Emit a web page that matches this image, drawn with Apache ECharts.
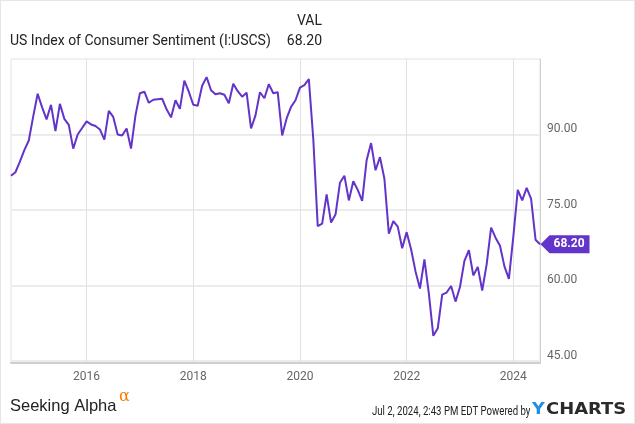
<!DOCTYPE html>
<html><head><meta charset="utf-8">
<script src="https://cdn.jsdelivr.net/npm/echarts@6/dist/echarts.min.js"></script>
<style>
html,body{margin:0;padding:0;background:#fff;}
#c{width:633px;height:422px;border:1px solid #e6e6e6;}
</style></head><body>
<div id="c"></div>
<script>
// Monthly values, July 2014 .. June 2024 (points placed at month end)
const startYear = 2014, startMonth = 7;
const v2014 = [81.8, 82.5, 84.6, 86.9, 88.8, 93.6];
const v2015 = [98.1, 95.4, 93.0, 95.9, 90.7, 96.1, 93.1, 91.9, 87.2, 90.0, 91.3, 92.6];
const v2016 = [92.0, 91.7, 91.0, 89.0, 94.7, 93.5, 90.0, 89.8, 91.2, 87.2, 93.8, 98.2];
const v2017 = [98.5, 96.3, 96.9, 97.0, 97.1, 95.0, 93.4, 96.8, 95.1, 100.7, 98.5, 95.9];
const v2018 = [95.7, 99.7, 101.4, 98.8, 98.0, 98.2, 97.9, 96.2, 100.1, 98.6, 97.5, 98.3];
const v2019 = [91.2, 93.8, 98.4, 97.2, 100.0, 98.2, 98.4, 89.8, 93.2, 95.5, 96.8, 99.3];
const v2020 = [99.8, 101.0, 89.1, 71.8, 72.3, 78.1, 72.5, 74.1, 80.4, 81.8, 76.9, 80.7];
const v2021 = [79.0, 76.8, 84.9, 88.3, 82.9, 85.5, 81.2, 70.3, 72.8, 71.7, 67.4, 70.6];
const v2022 = [67.2, 62.8, 59.4, 65.2, 58.4, 50.0, 51.5, 58.2, 58.6, 59.9, 56.8, 59.7];
const v2023 = [64.9, 67.0, 62.0, 63.7, 59.0, 64.2, 71.5, 69.5, 67.9, 63.8, 61.3, 69.7];
const v2024 = [79.0, 76.9, 79.4, 77.2, 69.1, 68.2];
const xTicks = [2016, 2018, 2020, 2022, 2024];
const yTicks = [45, 60, 75, 90];
const lastLabel = '68.20';

const allVals = [].concat(v2014, v2015, v2016, v2017, v2018, v2019, v2020, v2021, v2022, v2023, v2024);
const data = allVals.map((v, i) => {
  const m = startMonth + i;
  return [startYear + m / 12, v];
});
const last = data[data.length - 1];

const chart = echarts.init(document.getElementById('c'), null, {renderer: 'canvas'});
const FONT = 'Roboto';
chart.setOption({
  animation: false,
  grid: {left: 10, right: 94, top: 58, bottom: 60, show: true, borderColor: '#e2e2e2', borderWidth: 1},
  xAxis: {
    type: 'value', min: data[0][0], max: last[0],
    axisLine: {show: true, onZero: false, lineStyle: {color: '#cfcfcf', width: 2}},
    axisTick: {show: false, customValues: xTicks},
    axisLabel: {customValues: xTicks, color: '#666', fontFamily: FONT, fontSize: 12, margin: 8,
      formatter: v => String(Math.round(v))},
    splitLine: {show: true, lineStyle: {color: '#e2e2e2', width: 1}}
  },
  yAxis: {
    type: 'value', position: 'right', min: 44.6, max: 105,
    axisLine: {show: true, lineStyle: {color: '#d0d0d0', width: 1}},
    axisTick: {show: false, customValues: yTicks},
    axisLabel: {customValues: yTicks, color: '#666', fontFamily: FONT, fontSize: 12, margin: 7,
      verticalAlign: 'bottom', lineHeight: 10,
      formatter: v => v.toFixed(2)},
    splitLine: {show: true, lineStyle: {color: '#ececec', width: 2}}
  },
  series: [{
    type: 'line', data: data, showSymbol: false, symbol: 'none',
    lineStyle: {color: '#6234C9', width: 2},
    markPoint: {
      silent: true,
      data: [{coord: last, value: last[1]}],
      symbol: 'path://M0,9 L9,0 L49,0 L49,18 L9,18 Z',
      symbolSize: [49, 18],
      symbolOffset: [25, 0],
      itemStyle: {color: '#6234C9'},
      label: {show: true, formatter: lastLabel, color: '#fff', fontFamily: FONT, fontWeight: 'bold',
        fontSize: 12, offset: [4, 0]}
    }
  }],
  graphic: [
    {type: 'text', left: 9, top: 33, style: {text: 'US Index of Consumer Sentiment (I:USCS)', font: '14px Roboto', fill: '#222'}},
    {type: 'text', right: 312, top: 13, style: {text: 'VAL', font: '14px Roboto', fill: '#222', textAlign: 'right'}},
    {type: 'text', right: 312, top: 33, style: {text: '68.20', font: '14px Roboto', fill: '#222', textAlign: 'right'}},
    {type: 'text', x: 9, y: 397, style: {text: 'Seeking Alpha', font: '16.5px "Liberation Sans"', fill: '#222'}},
    {type: 'text', x: 118, y: 388, style: {text: 'α', font: '16px "DejaVu Serif"', fill: '#f57c00'}},
    {type: 'text', x: 371, y: 404, scaleX: 0.77, style: {text: 'Jul 2, 2024, 2:43 PM EDT Powered by', font: '12.5px Roboto', fill: '#222'}},
    {type: 'text', x: 531, y: 401, scaleX: 1.1, style: {text: 'Y', font: 'bold 16px "DejaVu Sans"', fill: '#1e90e6'}},
    {type: 'text', x: 545, y: 401, scaleX: 1.12, style: {text: 'CHARTS', font: 'bold 16px "DejaVu Sans"', fill: '#2a2a2a'}}
  ]
});
</script>
</body></html>
